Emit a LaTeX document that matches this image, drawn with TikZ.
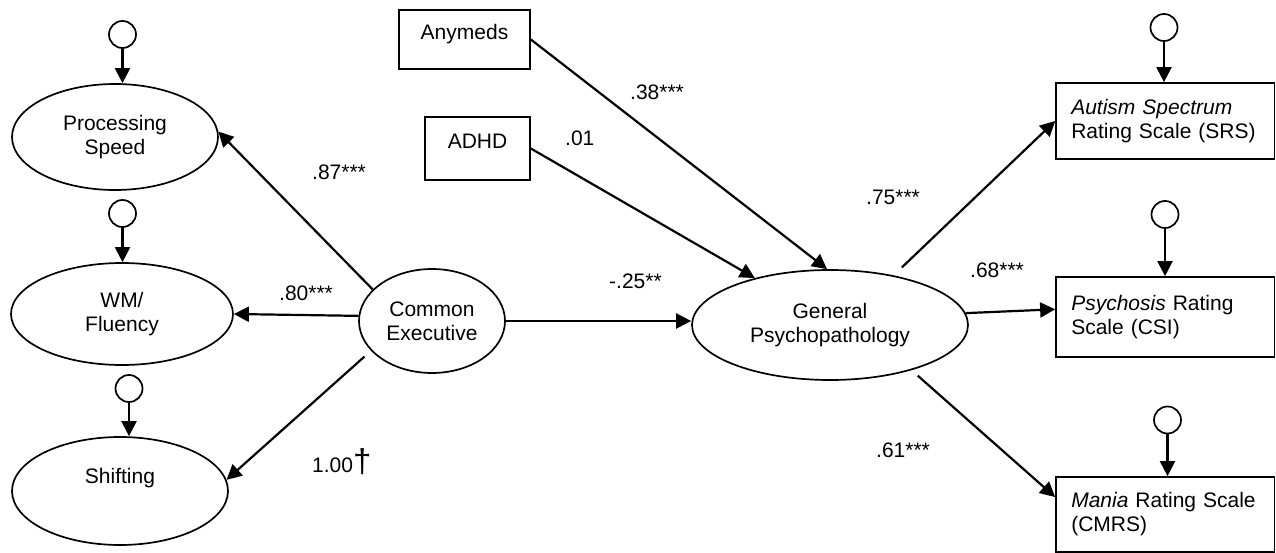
\documentclass[tikz,border=0pt]{standalone}
\usepackage{fontspec}
\setmainfont{Liberation Sans}
\usetikzlibrary{shapes.geometric,arrows.meta}
\begin{document}
\begin{tikzpicture}[x=1pt,y=-1pt,
  font=\fontsize{21}{24}\selectfont,
  lat/.style={draw, ellipse, line width=1.7pt, inner sep=0pt, align=center},
  obs/.style={draw, rectangle, line width=1.7pt, inner sep=0pt},
  onel/.style={text height=8pt, text depth=8pt},
  twol/.style={text width=188pt, align=left},
  err/.style={draw, circle, line width=1.7pt, inner sep=0pt, minimum size=27pt},
  arr/.style={line width=2.2pt, -{Triangle[length=15pt,width=15pt]}},
  lab/.style={anchor=base west, inner sep=0pt}]
\useasboundingbox (0,0) rectangle (1276,553);

% latent variables
\node[lat, minimum width=206pt, minimum height=106pt] (ps) at (115,137) {Processing\\Speed};
\node[lat, minimum width=222pt, minimum height=102pt] (wm) at (122,314) {WM/\\Fluency};
\node[lat, minimum width=216pt, minimum height=108pt] (sh) at (120,491) {Shifting\\\strut};
\node[lat, minimum width=146pt, minimum height=104pt] (ce) at (432,321) {Common\\Executive};
\node[lat, minimum width=276pt, minimum height=110pt] (gp) at (830,325) {General\\Psychopathology};

% observed variables
\node[obs, onel, minimum width=131pt, minimum height=59pt] (any) at (464.5,39.5) {Anymeds};
\node[obs, onel, minimum width=105pt, minimum height=63pt] (adhd) at (477.5,148.5) {ADHD};
\node[obs, twol, minimum width=218.5pt, minimum height=76pt] (srs) at (1165.25,121) {\textit{Autism Spectrum}\\Rating Scale (SRS)};
\node[obs, twol, minimum width=218.5pt, minimum height=80pt] (csi) at (1165.25,317) {\textit{Psychosis} Rating\\Scale (CSI)};
\node[obs, twol, minimum width=218.5pt, minimum height=75pt] (cmrs) at (1165.25,514.5) {\textit{Mania} Rating Scale\\(CMRS)};

% error terms
\node[err] (e1) at (122.5,34.5) {};
\node[err] (e2) at (122.5,213.5) {};
\node[err] (e3) at (129,388.5) {};
\node[err] (e4) at (1164,27.5) {};
\node[err] (e5) at (1165,214.5) {};
\node[err] (e6) at (1167.5,420) {};

\draw[arr] (e1) -- (e1 |- ps.north);
\draw[arr] (e2) -- (e2 |- wm.north);
\draw[arr] (e3) -- (e3 |- sh.north);
\draw[arr] (e4) -- (e4 |- srs.north);
\draw[arr] (e5) -- (e5 |- csi.north);
\draw[arr] (e6) -- (e6 |- cmrs.north);

% paths
\draw[arr] (ce.152) -- (ps.3);
\draw[arr] (ce.176) -- (wm.east);
\draw[arr, shorten <=8.8pt] (ce.206.9) -- (sh.6);
\draw[arr] (ce.east) -- (ce.east -| gp.west);
\draw[arr] (any.east) -- (gp.93);
\draw[arr] (adhd.east) -- (gp.148);
\draw[arr, shorten <=11.5pt] (gp.38.6) -- (srs.west);
\draw[arr] (gp.5) -- (csi.176);
\draw[arr, shorten <=8.3pt] (gp.331.5) -- (cmrs.171.5);

% coefficients
\node[lab] (l87) at (312,179.5) {.87***};
\node[lab] (l80) at (279,300) {.80***};
\node[lab] (l100) at (312,472) {1.00{\fontsize{33}{33}\selectfont †}};
\node[lab] (l38) at (630,100) {.38***};
\node[lab] (l01) at (565,146) {.01};
\node[lab] (l25) at (609,288) {-.25**};
\node[lab] (l75) at (866,205) {.75***};
\node[lab] (l68) at (970,277) {.68***};
\node[lab] (l61) at (876,457) {.61***};
\end{tikzpicture}
\end{document}
